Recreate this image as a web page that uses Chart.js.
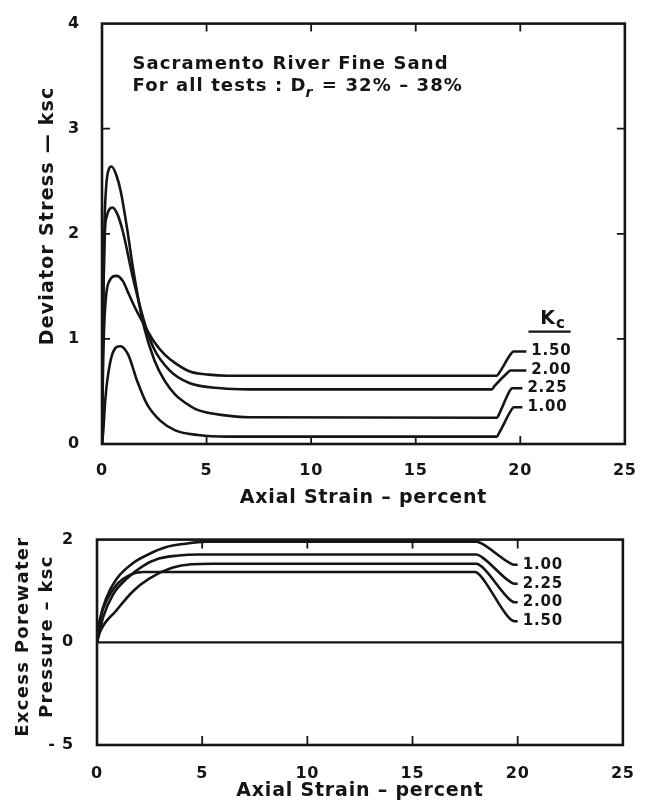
<!DOCTYPE html>
<html>
<head>
<meta charset="utf-8">
<script src="https://cdn.jsdelivr.net/npm/chart.js@4"></script>
<style>
  html, body { margin: 0; padding: 0; background: #fff; }
  #wrap { position: relative; width: 645px; height: 807px; }
  #devChart { position: absolute; left: 0; top: 0; }
  #porChart { position: absolute; left: 0; top: 515px; }
</style>
</head>
<body>
<div id="wrap">
  <canvas id="devChart" width="645" height="515"></canvas>
  <canvas id="porChart" width="645" height="292"></canvas>
</div>
<script>
const INK = "#151515";
const FONT = '"DejaVu Sans", "Liberation Sans", sans-serif';

// axis ticks
const strainTicks = [0, 5, 10, 15, 20, 25];
const devTicks = [0, 1, 2, 3, 4];
const devTickLabels = ["0", "1", "2", "3", "4"];
// lower plot: spacing reads as -2 .. 2, printed label at the bottom is "- 5"
const porTicks = [-2, 0, 2];
const porTickLabels = ["- 5", "0", "2"];

// deviator stress (ksc) vs axial strain (%), one pair of arrays per Kc
const devStrain150 = [0, 0.04, 0.1, 0.2, 0.35, 0.69, 1.0, 1.25, 1.5, 1.75, 2.0, 2.5, 3.0, 3.5, 4.2, 5.1, 6.0, 18.88, 19.0, 19.56, 19.68, 20.29];
const devStress150 = [0, 0.6, 1.1, 1.42, 1.55, 1.60, 1.55, 1.44, 1.33, 1.23, 1.14, 0.97, 0.85, 0.77, 0.69, 0.66, 0.65, 0.65, 0.68, 0.86, 0.88, 0.88];

const devStrain200 = [0, 0.04, 0.14, 0.22, 0.5, 0.75, 1.0, 1.47, 1.98, 2.45, 3.23, 4.17, 5.7, 7.0, 18.64, 18.76, 19.4, 19.52, 20.29];
const devStress200 = [0, 1.0, 2.02, 2.16, 2.25, 2.18, 2.02, 1.59, 1.19, 0.92, 0.70, 0.58, 0.53, 0.52, 0.52, 0.55, 0.68, 0.70, 0.70];

const devStrain225 = [0, 0.05, 0.12, 0.2, 0.3, 0.46, 0.7, 0.9, 1.2, 1.5, 2.0, 2.5, 3.0, 3.5, 4.0, 4.5, 5.0, 6.0, 7.0, 18.88, 19.0, 19.48, 19.6, 20.1];
const devStress225 = [0, 1.2, 2.1, 2.45, 2.6, 2.64, 2.55, 2.4, 2.05, 1.65, 1.12, 0.8, 0.6, 0.47, 0.39, 0.33, 0.3, 0.27, 0.255, 0.25, 0.29, 0.50, 0.53, 0.53];

const devStrain100 = [0, 0.06, 0.15, 0.25, 0.5, 0.88, 1.25, 1.7, 2.15, 2.8, 3.5, 4.6, 6.0, 18.88, 19.0, 19.56, 19.68, 20.1];
const devStress100 = [0, 0.12, 0.4, 0.6, 0.86, 0.93, 0.85, 0.59, 0.38, 0.22, 0.13, 0.085, 0.07, 0.07, 0.11, 0.32, 0.35, 0.35];

// excess porewater pressure (ksc) vs axial strain (%)
const porStrain100 = [0, 0.14, 0.45, 0.92, 1.7, 2.48, 3.26, 4.2, 5.2, 18.04, 18.3, 19.6, 19.85, 20.0];
const porPress100 = [0, 0.44, 0.87, 1.23, 1.54, 1.72, 1.85, 1.92, 1.96, 1.96, 1.92, 1.55, 1.51, 1.51];

const porStrain225 = [0, 0.3, 0.76, 1.39, 2.16, 2.94, 3.88, 4.8, 18.04, 18.3, 19.6, 19.85, 20.0];
const porPress225 = [0, 0.5, 0.93, 1.23, 1.48, 1.63, 1.69, 1.71, 1.71, 1.66, 1.19, 1.14, 1.14];

const porStrain200 = [0, 0.14, 0.92, 1.7, 2.48, 3.57, 4.5, 5.5, 18.04, 18.3, 19.6, 19.85, 20.0];
const porPress200 = [0, 0.2, 0.62, 0.99, 1.24, 1.45, 1.52, 1.53, 1.53, 1.47, 0.84, 0.78, 0.78];

const porStrain150 = [0, 0.15, 0.5, 1.0, 1.5, 2.2, 3.0, 17.97, 18.2, 19.6, 19.85, 20.0];
const porPress150 = [0, 0.45, 0.85, 1.15, 1.30, 1.37, 1.37, 1.37, 1.31, 0.47, 0.41, 0.41];

function pts(xs, ys) {
  return xs.map((x, i) => ({ x: x, y: ys[i] }));
}

function curve(label, xs, ys) {
  return {
    label: label,
    data: pts(xs, ys),
    borderColor: INK,
    borderWidth: 2.6,
    pointRadius: 0,
    fill: false,
    cubicInterpolationMode: "monotone",
  };
}

function strainAxis(height, tickPad, titlePad) {
  return {
    type: "linear",
    min: 0,
    max: 25,
    afterFit: (s) => { s.height = height; },
    afterBuildTicks: (s) => { s.ticks = strainTicks.map((v) => ({ value: v })); },
    grid: { display: false },
    border: { display: false },
    ticks: { color: INK, padding: tickPad, maxRotation: 0, autoSkip: false, font: { family: FONT, size: 16, weight: "bold" } },
    title: {
      display: true,
      text: "Axial Strain – percent",
      color: INK,
      padding: { top: 0, bottom: titlePad },
      font: { family: FONT, size: 19, weight: "bold", lineHeight: 1.2 },
    },
  };
}

function valueAxis(width, min, max, values, labels, pad) {
  return {
    type: "linear",
    min: min,
    max: max,
    afterFit: (s) => { s.width = width; },
    afterBuildTicks: (s) => { s.ticks = values.map((v) => ({ value: v })); },
    grid: { display: false },
    border: { display: false },
    ticks: { color: INK, padding: pad, autoSkip: false, font: { family: FONT, size: 16, weight: "bold" }, callback: (v, i) => labels[i] },
  };
}

function spaced(ctx, txt, x, y, px, sp, style) {
  ctx.font = (style || "bold") + " " + px + "px " + FONT;
  ctx.letterSpacing = sp + "px";
  ctx.fillText(txt, x, y);
  return ctx.measureText(txt).width;
}

// frame, inward ticks, end labels, titles
const decor = {
  id: "decor",
  beforeDraw(chart) {
    chart.ctx.letterSpacing = "0.8px";
  },
  afterDatasetsDraw(chart, args, o) {
    const { ctx, chartArea: a, scales: { x, y } } = chart;
    ctx.save();
    ctx.strokeStyle = INK;
    ctx.fillStyle = INK;

    ctx.lineWidth = 2.6;
    ctx.strokeRect(a.left, a.top, a.right - a.left, a.bottom - a.top);

    ctx.lineWidth = 1.8;
    ctx.beginPath();
    x.ticks.forEach((t) => {
      if (t.value <= x.min || t.value >= x.max) return;
      const px = x.getPixelForValue(t.value);
      ctx.moveTo(px, a.top); ctx.lineTo(px, a.top + o.tickLen);
      ctx.moveTo(px, a.bottom); ctx.lineTo(px, a.bottom - o.tickLen);
    });
    if (o.yTicks) {
      y.ticks.forEach((t) => {
        if (t.value <= y.min || t.value >= y.max) return;
        const py = y.getPixelForValue(t.value);
        ctx.moveTo(a.left, py); ctx.lineTo(a.left + o.tickLen, py);
        ctx.moveTo(a.right, py); ctx.lineTo(a.right - o.tickLen, py);
      });
    }
    ctx.stroke();

    if (o.zeroLine) {
      ctx.lineWidth = 2.2;
      const py = y.getPixelForValue(0);
      ctx.beginPath();
      ctx.moveTo(a.left, py); ctx.lineTo(a.right, py);
      ctx.stroke();
    }

    // Kc labels at the end of each curve
    ctx.textAlign = "left";
    ctx.textBaseline = "middle";
    chart.data.datasets.forEach((ds, i) => {
      const els = chart.getDatasetMeta(i).data;
      const el = els[els.length - 1];
      spaced(ctx, ds.label, el.x + 5, el.y, 15, 0.8);
    });

    if (o.kcHead) {
      const kx = x.getPixelForValue(o.kcHead.x);
      const ky = y.getPixelForValue(o.kcHead.y);
      const w = spaced(ctx, "K", kx, ky, 19, 0);
      spaced(ctx, "c", kx + w + 1, ky + 5, 15, 0);
      ctx.lineWidth = 2.2;
      const uy = y.getPixelForValue(o.kcHead.under);
      ctx.beginPath();
      ctx.moveTo(x.getPixelForValue(o.kcHead.u0), uy);
      ctx.lineTo(x.getPixelForValue(o.kcHead.u1), uy);
      ctx.stroke();
    }

    if (o.notes) {
      const nx = x.getPixelForValue(o.notes.x);
      spaced(ctx, "Sacramento River Fine Sand", nx, y.getPixelForValue(o.notes.y1), 18, 1.1);
      const ny = y.getPixelForValue(o.notes.y2);
      let cx = nx;
      cx += spaced(ctx, "For all tests : D", cx, ny, 18, 1.1);
      cx += spaced(ctx, "r", cx - 1, ny + 7, 14, 0, "italic bold");
      spaced(ctx, " = 32% – 38%", cx + 1, ny, 18, 1.1);
    }

    if (o.yTitle) {
      const t = o.yTitle;
      ctx.save();
      ctx.translate(0, y.getPixelForValue(t.y));
      ctx.rotate(-Math.PI / 2);
      ctx.textAlign = "center";
      t.lines.forEach((line, i) => {
        spaced(ctx, line, 0, t.xs[i], t.size, t.sp);
      });
      ctx.restore();
    }
    ctx.restore();
  },
};

new Chart(document.getElementById("devChart"), {
  type: "line",
  data: {
    datasets: [
      curve("1.50", devStrain150, devStress150),
      curve("2.00", devStrain200, devStress200),
      curve("2.25", devStrain225, devStress225),
      curve("1.00", devStrain100, devStress100),
    ],
  },
  options: {
    responsive: false,
    animation: false,
    layout: { padding: { top: 13, right: 12, left: 0, bottom: 0 } },
    plugins: {
      legend: { display: false },
      tooltip: { enabled: false },
      decor: {
        tickLen: 8,
        yTicks: true,
        kcHead: { x: 20.95, y: 1.19, under: 1.07, u0: 20.39, u1: 22.41 },
        notes: { x: 1.46, y1: 3.61, y2: 3.40 },
        yTitle: { lines: ["Deviator Stress — ksc"], xs: [48], y: 2.17, size: 19, sp: 1.2 },
      },
    },
    scales: {
      x: strainAxis(71, 9, 6),
      y: valueAxis(102, 0, 4, devTicks, devTickLabels, 14),
    },
  },
  plugins: [decor],
});

new Chart(document.getElementById("porChart"), {
  type: "line",
  data: {
    datasets: [
      curve("1.00", porStrain100, porPress100),
      curve("2.25", porStrain225, porPress225),
      curve("2.00", porStrain200, porPress200),
      curve("1.50", porStrain150, porPress150),
    ],
  },
  options: {
    responsive: false,
    animation: false,
    layout: { padding: { top: 10, right: 12, left: 0, bottom: 0 } },
    plugins: {
      legend: { display: false },
      tooltip: { enabled: false },
      decor: {
        tickLen: 9,
        zeroLine: true,
        yTitle: { lines: ["Excess Porewater", "Pressure – ksc"], xs: [23, 47], y: 0.11, size: 18, sp: 1.3 },
      },
    },
    scales: {
      x: strainAxis(62, 11, 5),
      y: valueAxis(97, -2, 2, porTicks, porTickLabels, 15),
    },
  },
  plugins: [decor],
});
</script>
</body>
</html>
